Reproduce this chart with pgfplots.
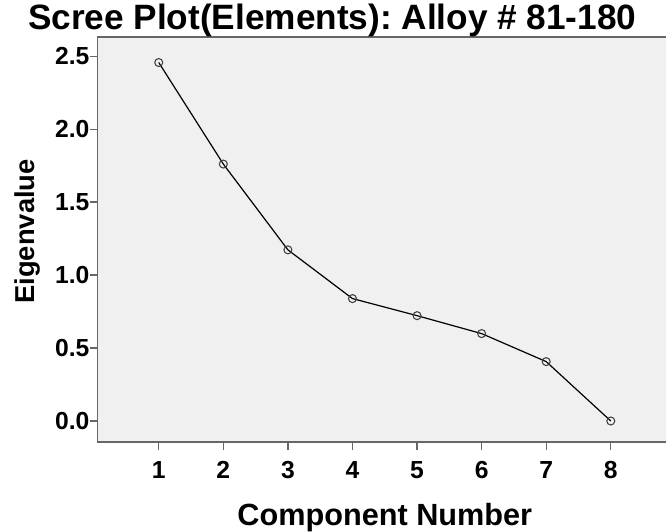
\documentclass[border=0pt]{standalone}
\usepackage{fontspec}
\setmainfont{Liberation Sans}
\usepackage{pgfplots}
\pgfplotsset{compat=1.18}
\definecolor{bgc}{HTML}{F0F0F0}
\definecolor{axc}{HTML}{666666}
\begin{document}
\frenchspacing
\begin{tikzpicture}
\begin{axis}[
  at={(0,0)}, anchor=south west,
  scale only axis,
  width=433.2pt, height=303.75pt,
  xmin=0.055, xmax=9, ymin=-0.144, ymax=2.632,
  axis background/.style={fill=bgc},
  axis line style={axc, line width=1.1pt},
  xtick={1,2,3,4,5,6,7,8},
  ytick={0,0.5,1,1.5,2,2.5},
  tick align=outside,
  tick pos=left,
  major tick length=6pt,
  tick style={axc, line width=1pt},
  /pgf/number format/assume math mode=true,
  ticklabel style={font=\fontsize{18.5}{21}\selectfont\bfseries},
  yticklabel style={/pgf/number format/fixed, /pgf/number format/fixed zerofill, /pgf/number format/precision=1, anchor=east, inner sep=0pt},
  xticklabel style={anchor=base, inner sep=0pt, yshift=-21.5pt},
  title={Scree Plot(Elements): Alloy \# 81-180},
  title style={font=\fontsize{26.4}{30}\selectfont\bfseries\frenchspacing, at={(axis description cs:0.406,1.0148)}, anchor=base, inner sep=0pt, yshift=-4.5pt},
  xlabel={Component Number},
  xlabel style={font=\fontsize{23}{27}\selectfont\bfseries, at={(axis description cs:0.497,-0.2074)}, anchor=base, inner sep=0pt},
  ylabel={Eigenvalue},
  ylabel style={font=\fontsize{20.5}{24}\selectfont\bfseries, at={(axis description cs:-0.109,0.52)}, anchor=base, inner sep=0pt},
  clip=false,
]
\addplot[black, line width=0.9pt, mark=o, mark size=3pt, mark options={draw=black!75, line width=0.8pt}]
  coordinates {(1,2.457) (2,1.761) (3,1.173) (4,0.839) (5,0.722) (6,0.599) (7,0.407) (8,0.0)};
\end{axis}
\pgfresetboundingbox
\path (-73.3pt,-66.75pt) rectangle (426.2pt,331.5pt);
\end{tikzpicture}
\end{document}
